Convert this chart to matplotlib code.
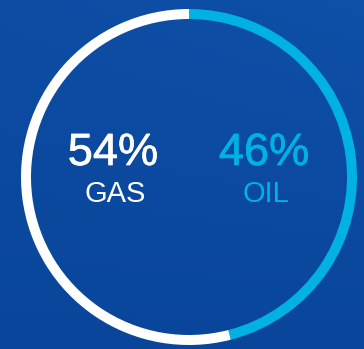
import numpy as np
import matplotlib
matplotlib.use("Agg")
import matplotlib.pyplot as plt
import matplotlib.patheffects as pe

labels = ["OIL", "GAS"]
values = [46, 54]
colors = ["#00b1e3", "#ffffff"]
pct_labels = ["46%", "54%"]

W, H = 364, 349
fig = plt.figure(figsize=(W / 100, H / 100), dpi=100)
ax = fig.add_axes([0, 0, 1, 1])
ax.set_axis_off()

# background: saturated dark blue with slight gradient
yy, xx = np.mgrid[0:H, 0:W]
base = np.array([0x09, 0x46, 0x9b]) / 255.0
light = np.array([0x12, 0x56, 0xb0]) / 255.0
t = 0.6 * (xx / W) * (1 - yy / H) + 0.4 * (1 - xx / W) * (1 - yy / H)
img = base[None, None, :] * (1 - t[..., None]) + light[None, None, :] * t[..., None]
ax.imshow(img, extent=(0, W, 0, H), origin="upper", zorder=0, aspect="auto")

cx, cy = 189, H - 177
R = 168
ax.pie(values, colors=colors, startangle=90, counterclock=False,
       center=(cx, cy), radius=R, wedgeprops=dict(width=10, linewidth=0),
       frame=False)

ax.set_xlim(0, W)
ax.set_ylim(0, H)
ax.set_aspect("auto")
ax.set_position([0, 0, 1, 1])

font = ["Liberation Sans", "DejaVu Sans"]
for i, (xc, xl) in enumerate([(264, 266), (113, 115)]):
    t1 = ax.text(xc, H - 165, pct_labels[i], color=colors[i], fontsize=32.5,
                 family=font, weight="normal", ha="center", va="baseline", zorder=5)
    t1.set_path_effects([pe.withStroke(linewidth=0.5, foreground=colors[i])])
    ax.text(xl, H - 202, labels[i], color=colors[i], fontsize=21, family=font,
            ha="center", va="baseline", zorder=5)

fig.savefig("out.png", dpi=100)
